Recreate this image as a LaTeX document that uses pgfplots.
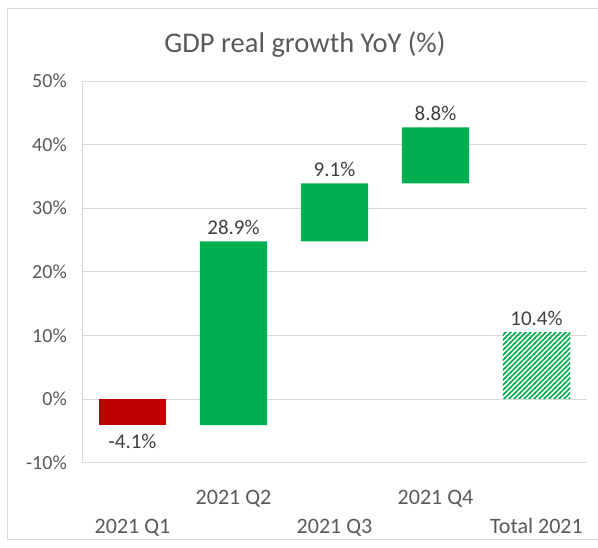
\documentclass[border=0pt]{standalone}
\usepackage{fontspec}
\setmainfont{Carlito}
\usepackage{pgfplots}
\pgfplotsset{compat=1.18}
\usetikzlibrary{patterns}
\pgfdeclarepatternformonly{widelines}{\pgfqpoint{-1pt}{-1pt}}{\pgfqpoint{6pt}{6pt}}{\pgfqpoint{5pt}{5pt}}{%
  \pgfsetlinewidth{1.7pt}%
  \pgfpathmoveto{\pgfqpoint{-0.5pt}{-0.5pt}}%
  \pgfpathlineto{\pgfqpoint{5.5pt}{5.5pt}}%
  \pgfusepath{stroke}}
\definecolor{xred}{HTML}{C00000}
\definecolor{xgreen}{HTML}{00B050}
\definecolor{txt}{HTML}{595959}
\definecolor{lbl}{HTML}{404040}
\definecolor{gridc}{HTML}{D9D9D9}
\begin{document}
\begin{tikzpicture}
\useasboundingbox (0,0) rectangle (598pt,548pt);
\draw[gridc, line width=1pt] (7pt,8pt) rectangle (620pt,539pt);
\node[text=txt, font=\fontsize{28.5}{34}\selectfont] at (305pt,503pt) {GDP real growth YoY (\%)};
\begin{axis}[
  at={(82pt,85.4pt)}, anchor=south west,
  scale only axis, width=505pt, height=381.6pt,
  xmin=0.5, xmax=5.5, ymin=-10, ymax=50,
  ybar stacked, stack negative=on previous, bar width=67pt,
  axis lines*=left,
  axis line style={draw=gridc, line width=0.8pt},
  ymajorgrids, major grid style={draw=gridc, line width=0.8pt},
  major tick length=0pt,
  xtick={1,2,3,4,5},
  xticklabels={{\rule{0pt}{19pt}\\2021 Q1},{\rule{0pt}{19pt}2021 Q2},{\rule{0pt}{19pt}\\2021 Q3},{\rule{0pt}{19pt}2021 Q4},{\rule{0pt}{19pt}\\Total 2021}},
  xticklabel style={font=\fontsize{22}{29}\selectfont, text=txt, align=center, anchor=north, inner sep=0pt, yshift=-23pt},
  ytick={-10,0,10,20,30,40,50},
  yticklabels={-10\%,0\%,10\%,20\%,30\%,40\%,50\%},
  yticklabel style={font=\fontsize{20}{24}\selectfont, text=txt, anchor=east, inner sep=0pt, xshift=-15pt},
  clip=false,
]
\addplot[draw=none, fill=none] coordinates {(1,0) (2,-4.1) (3,24.8) (4,33.9) (5,0)};
\addplot[draw=none, fill=xred] coordinates {(1,-4.1) (2,0) (3,0) (4,0) (5,0)};
\addplot[draw=none, fill=xgreen] coordinates {(1,0) (2,28.9) (3,9.1) (4,8.8) (5,0)};
\addplot[draw=none, pattern=widelines, pattern color=xgreen] coordinates {(1,0) (2,0) (3,0) (4,0) (5,10.4)};
\node[below, text=lbl, font=\fontsize{21}{25}\selectfont, inner sep=9pt] at (axis cs:1,-4.1) {-4.1\%};
\node[above, text=lbl, font=\fontsize{21}{25}\selectfont, inner sep=6.5pt] at (axis cs:2,24.8) {28.9\%};
\node[above, text=lbl, font=\fontsize{21}{25}\selectfont, inner sep=6.5pt] at (axis cs:3,33.9) {9.1\%};
\node[above, text=lbl, font=\fontsize{21}{25}\selectfont, inner sep=6.5pt] at (axis cs:4,42.7) {8.8\%};
\node[above, text=lbl, font=\fontsize{21}{25}\selectfont, inner sep=6.5pt] at (axis cs:5,10.4) {10.4\%};
\end{axis}
\end{tikzpicture}
\end{document}
